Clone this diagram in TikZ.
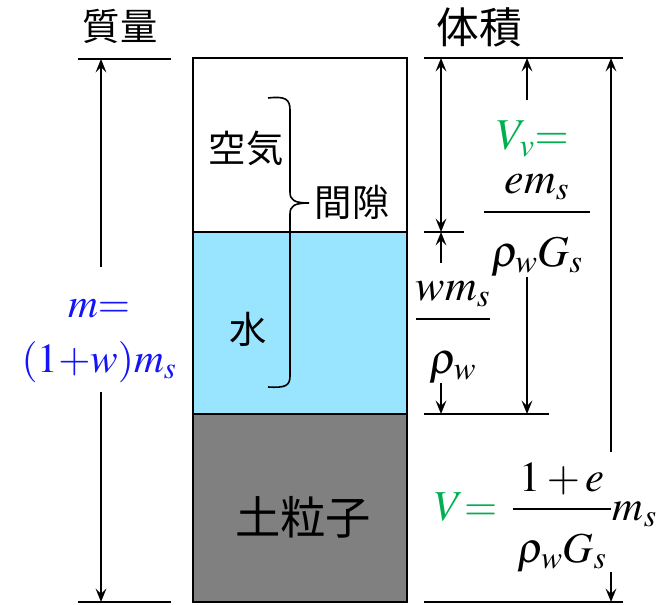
\documentclass[tikz,border=0pt]{standalone}
\usepackage{amsmath}
\usepackage{mathptmx}
\usepackage{fontspec}
\newfontfamily\jpfont{Noto Sans CJK JP}
\definecolor{waterblue}{RGB}{153, 228, 255}
\definecolor{soilgray}{RGB}{128, 128, 128}
\definecolor{massblue}{RGB}{20, 20, 245}
\definecolor{volgreen}{RGB}{0, 176, 80}
\usetikzlibrary{arrows.meta, positioning, calc}

\newcommand{\lowden}[1]{\raisebox{-0.3em}{$#1$}}

\tikzset{
    jplabel/.style={font=\jpfont\fontsize{28}{32}\selectfont, inner sep=0pt},
    formula/.style={font=\fontsize{33}{40}\selectfont, inner sep=0pt},
    tick/.style={line width=1.5pt},
    dim/.style={line width=1.5pt}
}

\begin{document}
\begin{tikzpicture}[x=0.75pt, y=-0.75pt, >={Stealth[length=10pt, width=8pt, inset=4pt]}]
    \useasboundingbox (0,0) rectangle (663,605);

    % soil column
    \fill[soilgray] (193,414) rectangle (407,602);
    \fill[waterblue] (193,232) rectangle (407,414);
    \draw[line width=1.5pt] (193,58) rectangle (407,602);
    \draw[line width=1.5pt] (193,232) -- (407,232);
    \draw[line width=1.5pt] (193,414) -- (407,414);

    \node[jplabel] (air) at (246,148) {空気};
    \node[jplabel] (water) at (248,329) {水};
    \node[jplabel, font=\jpfont\fontsize{34}{38}\selectfont] (soil) at (303,517) {土粒子};
    \node[jplabel] (void) at (352,202) {間隙};

    % brace for voids
    \draw[line width=1.2pt] (268,98) .. controls (285,96) and (290,99) .. (290,110) -- (290,192)
        .. controls (290,200) and (294,203) .. (309,203)
        .. controls (294,203) and (290,206) .. (290,214) -- (290,376)
        .. controls (290,386) and (285,388) .. (268,387);

    % mass
    \node[jplabel] (masshead) at (120,26) {質量};
    \coordinate (mtop) at (101,59);
    \coordinate (mbot) at (101,602);
    \coordinate (mgapa) at (101,267);
    \coordinate (mgapb) at (101,392);
    \draw[tick] (78,59) -- (171,59);
    \draw[tick] (78,602) -- (171,602);
    \draw[dim,->] (mgapa) -- (mtop);
    \draw[dim,->] (mgapb) -- (mbot);
    \node[formula, font=\fontsize{31}{40}\selectfont, text=massblue, align=center] (mass) at (99,341)
        {$m{=}$\\[1pt]$(1{+}w)m_s$};

    % volume
    \node[jplabel, font=\jpfont\fontsize{32}{36}\selectfont] (volhead) at (479,27) {体積};
    \draw[tick] (424,58) -- (623,58);
    \draw[tick] (424,232) -- (464,232);
    \draw[tick] (424,414) -- (549,414);
    \draw[tick] (424,602) -- (623,602);

    % void volume
    \coordinate (vatop) at (441,58);
    \coordinate (vabot) at (441,232);
    \draw[dim,<->] (vatop) -- (vabot);

    % water volume
    \coordinate (vwa) at (441,263);
    \coordinate (vwb) at (441,383);
    \coordinate (vwbot) at (441,414);
    \draw[dim,->] (vwa) -- (vabot);
    \draw[dim,->] (vwb) -- (vwbot);
    \node[formula, anchor=base] (wfrac) at (453,330)
        {$\dfrac{wm_s}{\lowden{\rho_w}}$};

    % void volume formula
    \coordinate (vvtop) at (527,58);
    \coordinate (vva) at (527,100);
    \coordinate (vvb) at (527,277);
    \coordinate (vvbot) at (527,414);
    \draw[dim,->] (vva) -- (vvtop);
    \draw[dim,->] (vvb) -- (vvbot);
    \node[formula, text=volgreen, anchor=base] (vvlabel) at (533,150) {$V_v{=}$};
    \node[formula, anchor=base] (vvfrac) at (537,223)
        {$\dfrac{em_s}{\mkern3mu\lowden{\rho_w G_s}\mkern3mu}$};

    % total volume
    \coordinate (vtop) at (611,58);
    \coordinate (va) at (611,452);
    \coordinate (vb) at (611,572);
    \coordinate (vbot) at (611,602);
    \draw[dim,->] (va) -- (vtop);
    \draw[dim,->] (vb) -- (vbot);
    \node[formula, font=\fontsize{32}{40}\selectfont, anchor=base east] (vtot) at (657,520)
        {$\textcolor{volgreen}{V{=}}\mkern6mu\dfrac{1+e}{\mkern2mu\lowden{\rho_w G_s}\mkern2mu}m_s$};
\end{tikzpicture}
\end{document}
